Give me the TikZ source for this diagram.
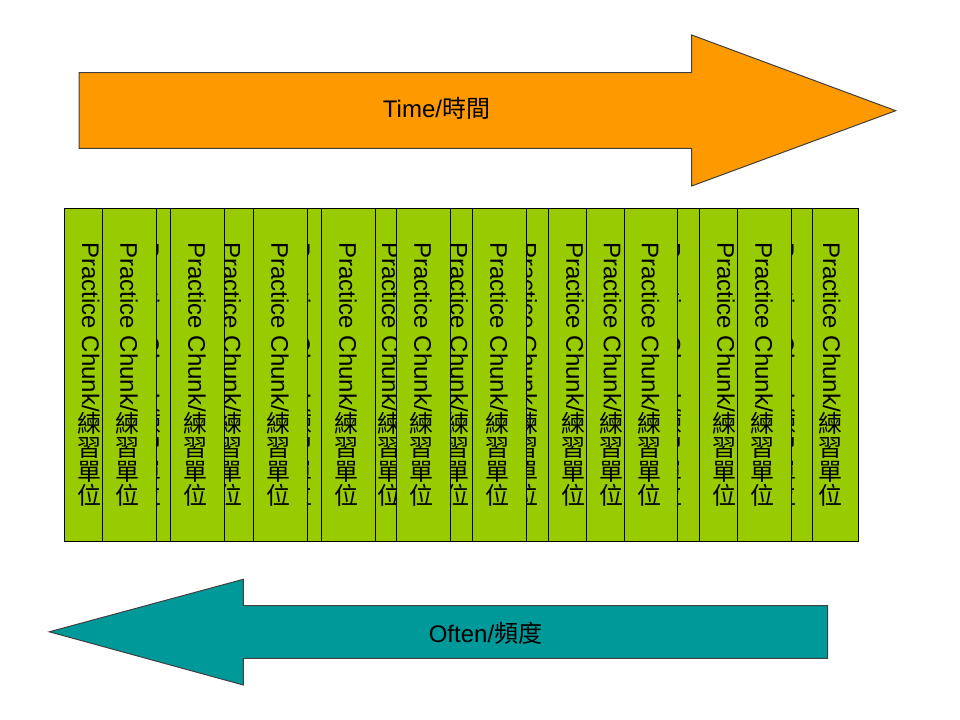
\documentclass[tikz,border=0pt]{standalone}
\usepackage{fontspec}
\setmainfont{Liberation Sans}
\newfontfamily\cjk{Noto Sans CJK TC}
\usepackage{graphicx}
\usepackage{tikz}
\usetikzlibrary{positioning}

\definecolor{timeorange}{HTML}{FF9900}
\definecolor{chunkgreen}{HTML}{99CC00}
\definecolor{oftenteal}{HTML}{009999}

% upright CJK character inside a rotated line
\newcommand{\cjkup}[1]{\raisebox{-0.07em}[0.88em][0.12em]{\rotatebox[origin=c]{90}{\raisebox{0pt}[0.88em][0.12em]{\cjk #1}}}}
\newcommand{\chunklabel}{\rotatebox{-90}{Practice Chunk/\cjkup{練}\cjkup{習}\cjkup{單}\cjkup{位}}}

\begin{document}
\begin{tikzpicture}
	[
	x=0.75pt, y=-0.75pt,
	every node/.style={font=\fontsize{18}{22}\selectfont},
	chunk/.style = {draw=black, line width=0.75pt, fill=chunkgreen, anchor=north west,
		minimum width=40pt, minimum height=250pt, inner sep=0pt},
	bigarrow/.style = {draw=black!75, line width=0.75pt},
	arrowtext/.style = {anchor=base, inner sep=0pt}
	]
	\useasboundingbox (0,0) rectangle (960,720);

	% time arrow
	\coordinate (t1) at (79,72.7);
	\coordinate (t2) at (691.7,72.7);
	\coordinate (t3) at (691.7,35);
	\coordinate (t4) at (895.7,110.7);
	\coordinate (t5) at (691.7,186);
	\coordinate (t6) at (691.7,148.3);
	\coordinate (t7) at (79,148.3);
	\draw[bigarrow, fill=timeorange] (t1) -- (t2) -- (t3) -- (t4) -- (t5) -- (t6) -- (t7) -- cycle;
	\node[arrowtext] (time) at (436.5,118) {Time/{\cjk 時間}};

	% chunks underneath
	\node[chunk] (pc1)  at (64,208)    {\chunklabel};
	\node[chunk] (pc3)  at (124,208)   {\chunklabel};
	\node[chunk] (pc5)  at (205.5,208) {\chunklabel};
	\node[chunk] (pc7)  at (275,208)   {\chunklabel};
	\node[chunk] (pc9)  at (364,208)   {\chunklabel};
	\node[chunk] (pc11) at (432.5,208) {\chunklabel};
	\node[chunk] (pc13) at (501.5,208) {\chunklabel};
	\node[chunk] (pc17) at (645.5,208) {\chunklabel};
	\node[chunk] (pc21) at (805,208)   {\chunklabel};
	\node[chunk] (pc20) at (759,208)   {\chunklabel};

	% chunks on top
	\node[chunk] (pc2)  at (102.3,208) {\chunklabel};
	\node[chunk] (pc4)  at (170.3,208) {\chunklabel};
	\node[chunk] (pc6)  at (253.3,208) {\chunklabel};
	\node[chunk] (pc8)  at (321.3,208) {\chunklabel};
	\node[chunk] (pc10) at (396.3,208) {\chunklabel};
	\node[chunk] (pc12) at (472.3,208) {\chunklabel};
	\node[chunk] (pc14) at (548.3,208) {\chunklabel};
	\node[chunk] (pc15) at (585.7,208) {\chunklabel};
	\node[chunk] (pc16) at (623.7,208) {\chunklabel};
	\node[chunk] (pc18) at (699.3,208) {\chunklabel};
	\node[chunk] (pc19) at (737.3,208) {\chunklabel};

	% often arrow
	\coordinate (o1) at (827.7,605.5);
	\coordinate (o2) at (243.3,605.5);
	\coordinate (o3) at (243.3,579.3);
	\coordinate (o4) at (49.3,631.8);
	\coordinate (o5) at (243.3,685);
	\coordinate (o6) at (243.3,658.3);
	\coordinate (o7) at (827.7,658.3);
	\draw[bigarrow, fill=oftenteal] (o1) -- (o2) -- (o3) -- (o4) -- (o5) -- (o6) -- (o7) -- cycle;
	\node[arrowtext] (often) at (485.5,642.3) {Often/{\cjk 頻度}};

\end{tikzpicture}
\end{document}
